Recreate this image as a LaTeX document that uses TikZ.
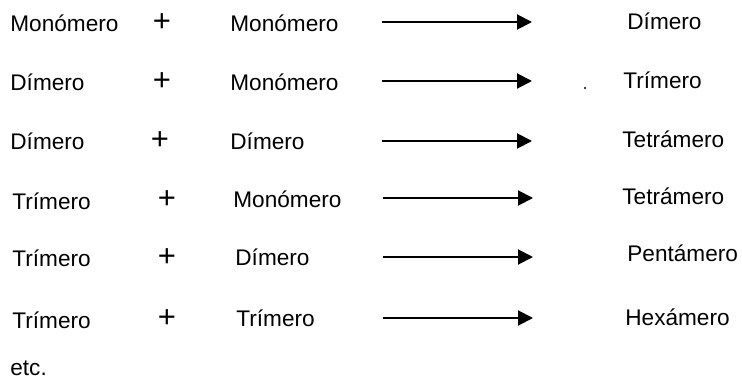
\documentclass[tikz,border=0pt]{standalone}
\usepackage{fontspec}
\setmainfont{Liberation Sans}
\usetikzlibrary{arrows.meta}

\tikzset{
	especie/.style={anchor=base west, inner sep=0pt, font=\fontsize{11.3}{13}\selectfont},
	mas/.style={anchor=base, inner sep=0pt, font=\fontsize{15.5}{18}\selectfont},
	reaccion/.style={line width=1pt, -{Triangle[length=7.5pt,width=7.5pt]}},
}

\begin{document}
\begin{tikzpicture}[x=0.5pt,y=-0.5pt]
	\useasboundingbox (0,0) rectangle (742,379);

	% fila 1
	\node[especie] (r1a) at (10,32) {Monómero};
	\node[mas] (s1) at (162,32) {+};
	\node[especie] (r1b) at (230,32) {Monómero};
	\coordinate (f1i) at (382,22);
	\coordinate (f1f) at (532,22);
	\node[especie] (p1) at (627,30) {Dímero};

	% fila 2
	\node[especie] (r2a) at (10,91) {Dímero};
	\node[mas] (s2) at (162,91) {+};
	\node[especie] (r2b) at (230,91) {Monómero};
	\coordinate (f2i) at (382,81);
	\coordinate (f2f) at (532,81);
	\node[especie] (p2) at (623,89) {Trímero};

	% fila 3
	\node[especie] (r3a) at (10,150) {Dímero};
	\node[mas] (s3) at (160,150) {+};
	\node[especie] (r3b) at (230,149) {Dímero};
	\coordinate (f3i) at (382,141);
	\coordinate (f3f) at (532,141);
	\node[especie] (p3) at (622,148) {Tetrámero};

	% fila 4
	\node[especie] (r4a) at (12,209) {Trímero};
	\node[mas] (s4) at (167,208) {+};
	\node[especie] (r4b) at (233,207) {Monómero};
	\coordinate (f4i) at (383,198);
	\coordinate (f4f) at (533,198);
	\node[especie] (p4) at (622,204) {Tetrámero};

	% fila 5
	\node[especie] (r5a) at (12,266) {Trímero};
	\node[mas] (s5) at (167,266) {+};
	\node[especie] (r5b) at (235,265) {Dímero};
	\coordinate (f5i) at (383,257);
	\coordinate (f5f) at (533,257);
	\node[especie] (p5) at (627,261) {Pentámero};

	% fila 6
	\node[especie] (r6a) at (12,328) {Trímero};
	\node[mas] (s6) at (167,327) {+};
	\node[especie] (r6b) at (236,326) {Trímero};
	\coordinate (f6i) at (383,318);
	\coordinate (f6f) at (533,318);
	\node[especie] (p6) at (625,325) {Hexámero};

	\draw[reaccion] (f1i) -- (f1f);
	\draw[reaccion] (f2i) -- (f2f);
	\draw[reaccion] (f3i) -- (f3f);
	\draw[reaccion] (f4i) -- (f4f);
	\draw[reaccion] (f5i) -- (f5f);
	\draw[reaccion] (f6i) -- (f6f);

	\fill (585,88) circle (1.2);

	\node[especie] (etc) at (10,375) {etc.};
\end{tikzpicture}
\end{document}
